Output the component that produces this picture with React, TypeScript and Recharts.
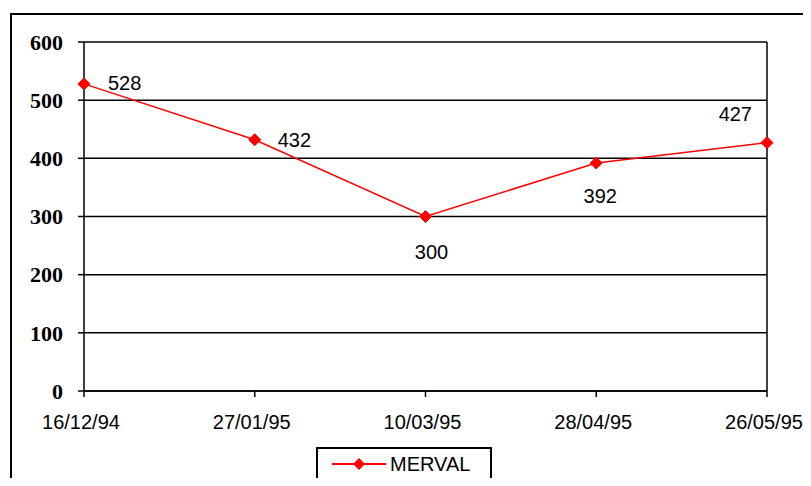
import { LineChart, Line, XAxis, YAxis, CartesianGrid, ReferenceLine, LabelList } from "recharts"

const fechas = ["16/12/94", "27/01/95", "10/03/95", "28/04/95", "26/05/95"]
const merval = [528, 432, 300, 392, 427]
const yTicks = [0, 100, 200, 300, 400, 500, 600]

const data = fechas.map((fecha, i) => ({ fecha, merval: merval[i] }))

const RED = "#ff0000"
const SANS = "'Liberation Sans', Arial, sans-serif"
const SERIF = "'Liberation Serif', 'Times New Roman', serif"

// where each value label sits relative to its point
const labelPos: { dx: number; dy: number; anchor: "start" | "middle" | "end" }[] = [
  { dx: 24, dy: -1, anchor: "start" },
  { dx: 23, dy: 0, anchor: "start" },
  { dx: 6, dy: 35, anchor: "middle" },
  { dx: 4, dy: 33, anchor: "middle" },
  { dx: -15, dy: -29, anchor: "end" },
]

const Diamond = (props: any) => {
  const { cx, cy } = props
  if (cx == null || cy == null) return null
  const r = 6
  return <path d={`M${cx},${cy - r}L${cx + r},${cy}L${cx},${cy + r}L${cx - r},${cy}Z`} fill={RED} stroke={RED} />
}

const ValueLabel = (props: any) => {
  const { x, y, value, index } = props
  const p = labelPos[index] ?? { dx: 0, dy: -15, anchor: "middle" }
  return (
    <text x={x + p.dx} y={y + p.dy} dy="0.36em" textAnchor={p.anchor} fontFamily={SANS} fontSize={20} fill="#000">
      {value}
    </text>
  )
}

const XTick = (props: any) => {
  const { x, y, payload } = props
  return (
    <text x={x - 3} y={y} dy="0.71em" textAnchor="middle" fontFamily={SANS} fontSize={20} fill="#000">
      {payload.value}
    </text>
  )
}

const LegendBox = () => (
  <div style={{ width: 176, height: 33, border: "2px solid #000", boxSizing: "border-box", display: "flex", alignItems: "center", background: "#fff" }}>
    <svg width={74} height={20} style={{ marginLeft: 14 }}>
      <line x1={0} y1={10} x2={54} y2={10} stroke={RED} strokeWidth={2} />
      <path d="M27,4L33,10L27,16L21,10Z" fill={RED} />
    </svg>
    <span style={{ fontFamily: SANS, fontSize: 20, color: "#000", marginLeft: -16, lineHeight: 1 }}>MERVAL</span>
  </div>
)

export default function App() {
  return (
    <div style={{ position: "relative", width: 811, height: 486, margin: -8, overflow: "hidden", background: "#fff" }}>
      <div style={{ position: "absolute", left: 10, top: 13, width: 900, height: 600, border: "2px solid #000" }} />
      <div style={{ position: "absolute", left: 0, top: 0 }}>
        <LineChart width={811} height={486} data={data} margin={{ top: 42, right: 44, left: 24, bottom: 55 }}>
          <CartesianGrid vertical={false} stroke="#000" strokeWidth={1.5} />
          <XAxis
            dataKey="fecha"
            height={40}
            stroke="#000"
            strokeWidth={1.5}
            tickSize={6}
            tickMargin={18}
            interval={0}
            tick={<XTick />}
          />
          <YAxis
            width={60}
            domain={[0, 600]}
            ticks={yTicks}
            stroke="#000"
            strokeWidth={1.5}
            tickSize={6}
            tickMargin={15}
            tick={{ fontFamily: SERIF, fontSize: 22, fontWeight: "bold", fill: "#000" }}
          />
          <ReferenceLine x={fechas[fechas.length - 1]} stroke="#000" strokeWidth={1.5} />
          <Line
            type="linear"
            dataKey="merval"
            name="MERVAL"
            stroke={RED}
            strokeWidth={1.5}
            dot={<Diamond />}
            activeDot={false}
            isAnimationActive={false}
          >
            <LabelList dataKey="merval" content={<ValueLabel />} />
          </Line>
        </LineChart>
      </div>
      <div style={{ position: "absolute", left: 316, top: 447 }}>
        <LegendBox />
      </div>
    </div>
  )
}
